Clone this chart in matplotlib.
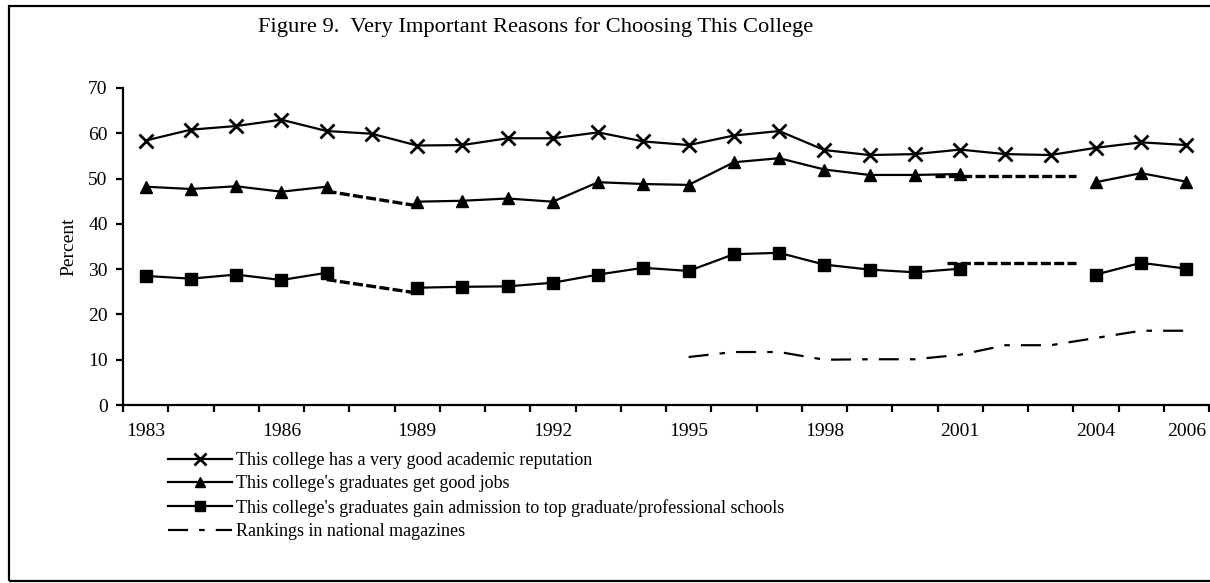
import matplotlib
matplotlib.use('Agg')
import matplotlib.pyplot as plt
import numpy as np
from matplotlib.patches import Rectangle

plt.rcParams['font.family'] = ['Liberation Serif', 'DejaVu Serif']

# --- дані ---
years = list(range(1983, 2007))
reputation = [58.4, 60.8, 61.6, 63.0, 60.5, 59.9, 57.3, 57.4, 58.9, 58.9, 60.2, 58.2,
              57.4, 59.5, 60.5, 56.3, 55.2, 55.4, 56.4, 55.4, 55.2, 56.8, 58.0, 57.4]
good_jobs = [48.2, 47.7, 48.3, 47.1, 48.2, np.nan, 44.9, 45.1, 45.6, 44.9, 49.2, 48.8,
             48.6, 53.6, 54.5, 52.0, 50.8, 50.8, 51.0, np.nan, np.nan, 49.2, 51.2, 49.3]
grad_school = [28.5, 27.9, 28.8, 27.6, 29.2, np.nan, 25.9, 26.1, 26.2, 27.0, 28.8, 30.3,
               29.6, 33.3, 33.6, 31.0, 29.9, 29.3, 30.1, np.nan, np.nan, 28.8, 31.4, 30.1]
rankings = [np.nan] * 12 + [10.6, 11.7, 11.7, 10.0, 10.1, 10.1, 11.1, 13.2, 13.2, 14.8, 16.4, 16.4]

# пунктирні перемички на місці пропущених років (позиція категорії, значення)
jobs_gap1_x, jobs_gap1_y = [4.0, 6.0], [47.2, 44.0]
jobs_gap2_x, jobs_gap2_y = [17.45, 20.55], [50.6, 50.6]
grad_gap1_x, grad_gap1_y = [4.0, 5.95], [27.7, 24.8]
grad_gap2_x, grad_gap2_y = [17.7, 20.55], [31.3, 31.3]

tick_pos = [0, 3, 6, 9, 12, 15, 18, 21, 23]
tick_labels = [str(years[i]) for i in tick_pos]

labels = ["This college has a very good academic reputation",
          "This college's graduates get good jobs",
          "This college's graduates gain admission to top graduate/professional schools",
          "Rankings in national magazines"]

fig = plt.figure(figsize=(12.1, 5.83), dpi=100)
ax = fig.add_axes([123 / 1210, 1 - 405 / 583, 1086 / 1210, 317 / 583])
x = np.arange(len(years))

ax.plot(x, reputation, color='black', lw=1.6, marker='x', ms=10, mew=2.0, label=labels[0])
ax.plot(x, good_jobs, color='black', lw=1.6, marker='^', ms=9, label=labels[1])
ax.plot(x, grad_school, color='black', lw=1.6, marker='s', ms=8.5, label=labels[2])
ax.plot(x, rankings, color='black', lw=1.6, dashes=(9, 5, 2.5, 5), label=labels[3])

for gx, gy in [(jobs_gap1_x, jobs_gap1_y), (jobs_gap2_x, jobs_gap2_y),
               (grad_gap1_x, grad_gap1_y), (grad_gap2_x, grad_gap2_y)]:
    ax.plot(gx, gy, color='black', lw=2.4, dashes=(3, 1))

ax.set_xlim(-0.5, 23.5)
ax.set_ylim(0, 70)
ax.set_yticks(range(0, 71, 10))
ax.set_xticks(tick_pos)
ax.set_xticklabels(tick_labels)
ax.set_xticks(np.arange(-0.5, 24, 1), minor=True)
ax.tick_params(axis='x', which='major', length=0, pad=13, labelsize=14)
ax.tick_params(axis='x', which='minor', length=5, width=1.6, direction='out')
ax.tick_params(axis='y', length=5, width=1.6, direction='out', labelsize=14, pad=6)
for s in ['top', 'right']:
    ax.spines[s].set_visible(False)
ax.spines['left'].set_linewidth(1.6)
ax.spines['bottom'].set_linewidth(1.6)
ax.set_ylabel('Percent', fontsize=14, labelpad=8)

fig.text(536 / 1210, 1 - 27 / 583, 'Figure 9.  Very Important Reasons for Choosing This College',
         ha='center', va='center', fontsize=16.2)

fig.legend(loc='upper left', bbox_to_anchor=(168 / 1210, 1 - 452 / 583), frameon=False,
           fontsize=13, handlelength=3.55, handletextpad=0.22, labelspacing=0.35,
           markerscale=0.8, borderaxespad=0, borderpad=0)

# рамка навколо всього рисунка
fig.patches.append(Rectangle((9 / 1210, 2 / 583), 1.2, 1 - 8 / 583, transform=fig.transFigure,
                             fill=False, ec='black', lw=1.6))

fig.savefig('out.png', dpi=100)
